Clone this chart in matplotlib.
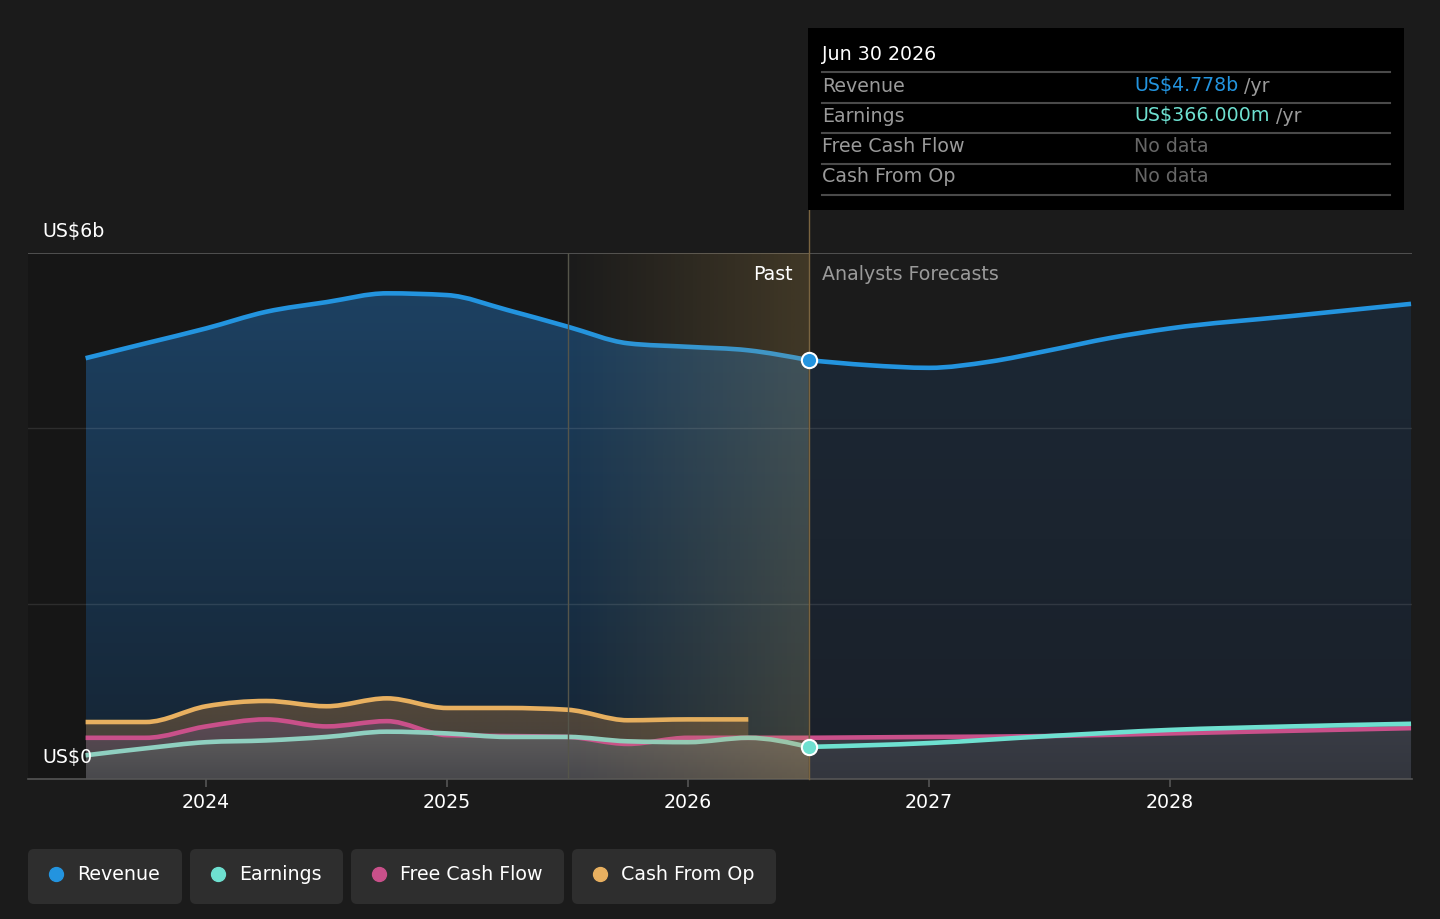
import matplotlib.pyplot as plt
import numpy as np
from matplotlib.patches import FancyBboxPatch, Rectangle, PathPatch
from matplotlib.path import Path
from matplotlib.lines import Line2D
from matplotlib.transforms import IdentityTransform
from matplotlib.colors import to_rgb

W, H = 1440, 919
BG = '#1b1b1b'

# --- data (US$ billions) ---
past_x = [2023.5, 2023.75, 2024.0, 2024.25, 2024.5, 2024.75, 2025.0, 2025.25,
          2025.5, 2025.75, 2026.0, 2026.25, 2026.5]
rev_past = [4.80, 4.97, 5.14, 5.33, 5.44, 5.54, 5.52, 5.35, 5.16, 4.97, 4.93, 4.89, 4.778]
earn_past = [0.27, 0.35, 0.42, 0.44, 0.48, 0.54, 0.52, 0.48, 0.48, 0.43, 0.42, 0.47, 0.366]
fcf_past = [0.47, 0.47, 0.60, 0.68, 0.60, 0.66, 0.50, 0.49, 0.48, 0.40, 0.47, 0.47, 0.47]
cfo_x = [2023.5, 2023.75, 2024.0, 2024.25, 2024.5, 2024.75, 2025.0, 2025.25,
         2025.5, 2025.75, 2026.0, 2026.25]
cfo_past = [0.65, 0.65, 0.83, 0.89, 0.83, 0.92, 0.81, 0.81, 0.79, 0.67, 0.68, 0.68]

fc_x = [2026.5, 2026.75, 2027.0, 2027.25, 2027.5, 2027.75, 2028.0, 2028.5, 2029.0]
rev_fc = [4.778, 4.72, 4.69, 4.76, 4.89, 5.03, 5.14, 5.28, 5.42]
earn_fc_x = [2026.5, 2027.0, 2027.5, 2028.0, 2028.5, 2029.0]
earn_fc = [0.366, 0.41, 0.49, 0.56, 0.60, 0.63]
fcf_fc = [0.47, 0.48, 0.49, 0.52, 0.55, 0.58]

years = [2024, 2025, 2026, 2027, 2028]
labels = ['Revenue', 'Earnings', 'Free Cash Flow', 'Cash From Op']
colors = ['#2394df', '#6ee0d0', '#c9508a', '#e8b060']

plt.rcParams['font.family'] = ['DejaVu Sans']
FS = 13.7

fig = plt.figure(figsize=(W / 100, H / 100), dpi=100, facecolor=BG)
ax = fig.add_axes([28 / W, 1 - 779 / H, (1412 - 28) / W, (779 - 253) / H])
ax.set_facecolor(BG)
X0, X1 = 2023.261, 2029.004


def px(x, y):
    return x / W, 1 - y / H


def monotone_path(x, y):
    # smooth monotone cubic (like d3 curveMonotoneX) as bezier path
    x = np.asarray(x, float)
    y = np.asarray(y, float)
    n = len(x)
    h = np.diff(x)
    s = np.diff(y) / h
    t = np.zeros(n)
    for i in range(1, n - 1):
        p = (s[i - 1] * h[i] + s[i] * h[i - 1]) / (h[i - 1] + h[i])
        t[i] = (np.sign(s[i - 1]) + np.sign(s[i])) * min(abs(s[i - 1]), abs(s[i]), 0.5 * abs(p))
    t[0] = (3 * s[0] - t[1]) / 2
    t[-1] = (3 * s[-1] - t[-2]) / 2
    verts = [(x[0], y[0])]
    codes = [Path.MOVETO]
    for i in range(n - 1):
        d = h[i] / 3
        verts += [(x[i] + d, y[i] + t[i] * d), (x[i + 1] - d, y[i + 1] - t[i + 1] * d),
                  (x[i + 1], y[i + 1])]
        codes += [Path.CURVE4] * 3
    return verts, codes


def draw_line(x, y, color, z, lw=3.3):
    v, c = monotone_path(x, y)
    ax.add_patch(PathPatch(Path(v, c), fill=False, edgecolor=color, lw=lw,
                           capstyle='butt', joinstyle='round', zorder=z))


def grad_fill(x, y, c_top, c_bot, z):
    v, c = monotone_path(x, y)
    v = v + [(x[-1], 0), (x[0], 0), (x[0], y[0])]
    c = c + [Path.LINETO, Path.LINETO, Path.CLOSEPOLY]
    clip = PathPatch(Path(v, c), facecolor='none', edgecolor='none')
    ax.add_patch(clip)
    n = 256
    arr = np.zeros((n, 1, 4))
    tt = np.linspace(0, 1, n)[:, None]
    ct, cb = np.array(to_rgb(c_top)), np.array(to_rgb(c_bot))
    arr[:, 0, :3] = cb + (ct - cb) * tt
    arr[:, 0, 3] = 1
    im = ax.imshow(arr, extent=[min(x), max(x), 0, max(y) + 0.05], aspect='auto',
                   origin='lower', zorder=z, interpolation='bilinear')
    im.set_clip_path(clip)


# dark band for past range before the highlight
ax.add_patch(Rectangle((X0, 0), 2025.5 - X0, 6, color='#000000', alpha=0.18, lw=0, zorder=0))

# revenue areas
grad_fill(past_x, rev_past, '#1d4162', '#152433', 1)
grad_fill(fc_x, rev_fc, '#1c2835', '#1a2029', 1)

# lower areas
grad_fill(cfo_x, cfo_past, '#54483a', '#3f3c3a', 2)
grad_fill(past_x, fcf_past, '#5e4a55', '#444346', 2.1)
grad_fill(past_x, earn_past, '#605e5e', '#48484c', 2.2)
grad_fill(earn_fc_x, fcf_fc, '#3a3d46', '#33363e', 2)
grad_fill(earn_fc_x, earn_fc, '#3a3d46', '#33363e', 2.1)

# grid
for v in [2, 4]:
    ax.axhline(v, color='#ffffff', alpha=0.1, lw=1, zorder=3)
ax.axhline(6, color='#5a5a5a', lw=1.2, zorder=3)

# lines
draw_line(past_x, rev_past, colors[0], 5)
draw_line(fc_x, rev_fc, colors[0], 5)
draw_line(cfo_x, cfo_past, colors[3], 5)
draw_line(past_x, fcf_past, colors[2], 5.1)
draw_line(earn_fc_x, fcf_fc, colors[2], 5.1)
draw_line(past_x, earn_past, '#8fcfc0', 5.2)
draw_line(earn_fc_x, earn_fc, colors[1], 5.2)

# highlight band (past hover)
n = 256
band = np.zeros((1, n, 4))
band[0, :, :3] = to_rgb('#c8a050')
band[0, :, 3] = np.linspace(0.0, 0.22, n)
ax.imshow(band, extent=[2025.5, 2026.5, 0, 6], aspect='auto', zorder=6,
          interpolation='bilinear')
ax.axvline(2025.5, color='#55554a', lw=1, zorder=6)
ax.plot([2026.5, 2026.5], [0, 6.9], color='#7a6440', lw=1, zorder=6, clip_on=False)

# markers
ax.plot([2026.5], [rev_past[-1]], 'o', ms=11, mfc=colors[0], mec='white', mew=1.5, zorder=8)
ax.plot([2026.5], [earn_past[-1]], 'o', ms=11, mfc=colors[1], mec='white', mew=1.5, zorder=8)

ax.set_xlim(X0, X1)
ax.set_ylim(0, 6)
for s in ['top', 'right', 'left']:
    ax.spines[s].set_visible(False)
ax.spines['bottom'].set_color('#555555')
ax.spines['bottom'].set_linewidth(1.2)
ax.set_yticks([])
ax.set_xticks(years)
ax.set_xticklabels([str(y) for y in years], color='white', fontsize=FS)
ax.tick_params(axis='x', colors='#555555', length=6, width=1.2, pad=4, labelcolor='white')

# axis value labels
fig.text(*px(42, 232), 'US$6b', color='white', fontsize=FS, va='center', ha='left')
fig.text(*px(42, 758), 'US$0', color='white', fontsize=FS, va='center', ha='left', zorder=10)
fig.text(*px(793, 274), 'Past', color='white', fontsize=FS, va='center', ha='right')
fig.text(*px(822, 274), 'Analysts Forecasts', color='#9a9a9a', fontsize=FS, va='center', ha='left')

# tooltip
tip = Rectangle((808, H - 210), 1404 - 808, 210 - 28, transform=IdentityTransform(),
                facecolor='#000000', edgecolor='none', zorder=20)
fig.add_artist(tip)
fig.text(*px(822, 55), 'Jun 30 2026', color='white', fontsize=FS, va='center', zorder=21)
for yy in [72, 103, 133, 164, 195]:
    fig.add_artist(Line2D([822, 1390], [H - yy, H - yy], color='#4a4a4a', lw=1.5,
                          transform=IdentityTransform(), zorder=21))
rows = [('Revenue', 'US$4.778b', colors[0]), ('Earnings', 'US$366.000m', colors[1]),
        ('Free Cash Flow', 'No data', '#666666'), ('Cash From Op', 'No data', '#666666')]
for (name, val, c), yy in zip(rows, [86, 116, 147, 177]):
    fig.text(*px(822, yy), name, color='#9a9a9a', fontsize=FS, va='center', zorder=22)
    t = fig.text(*px(1134, yy), val, color=c, fontsize=FS, va='center', zorder=22)
    if val != 'No data':
        fig.canvas.draw()
        bb = t.get_window_extent()
        fig.text(bb.x1 / W + 6 / W, 1 - yy / H, '/yr', color='#9a9a9a', fontsize=FS,
                 va='center', zorder=22)

# legend
boxes = [(28, 182), (190, 343), (351, 564), (572, 776)]
for (x0, x1), name, c in zip(boxes, labels, colors):
    fig.add_artist(FancyBboxPatch((x0, H - 904), x1 - x0, 55,
                                  boxstyle='round,pad=0,rounding_size=6',
                                  transform=IdentityTransform(), facecolor='#2e2e2e',
                                  edgecolor='none', zorder=20))
    fig.add_artist(Line2D([x0 + 28], [H - 874], marker='o', ms=10, color=c, lw=0,
                          transform=IdentityTransform(), zorder=21))
    fig.text(*px(x0 + 49, 874), name, color='white', fontsize=FS, va='center', zorder=22)

fig.savefig('out.png', dpi=100, facecolor=BG)
